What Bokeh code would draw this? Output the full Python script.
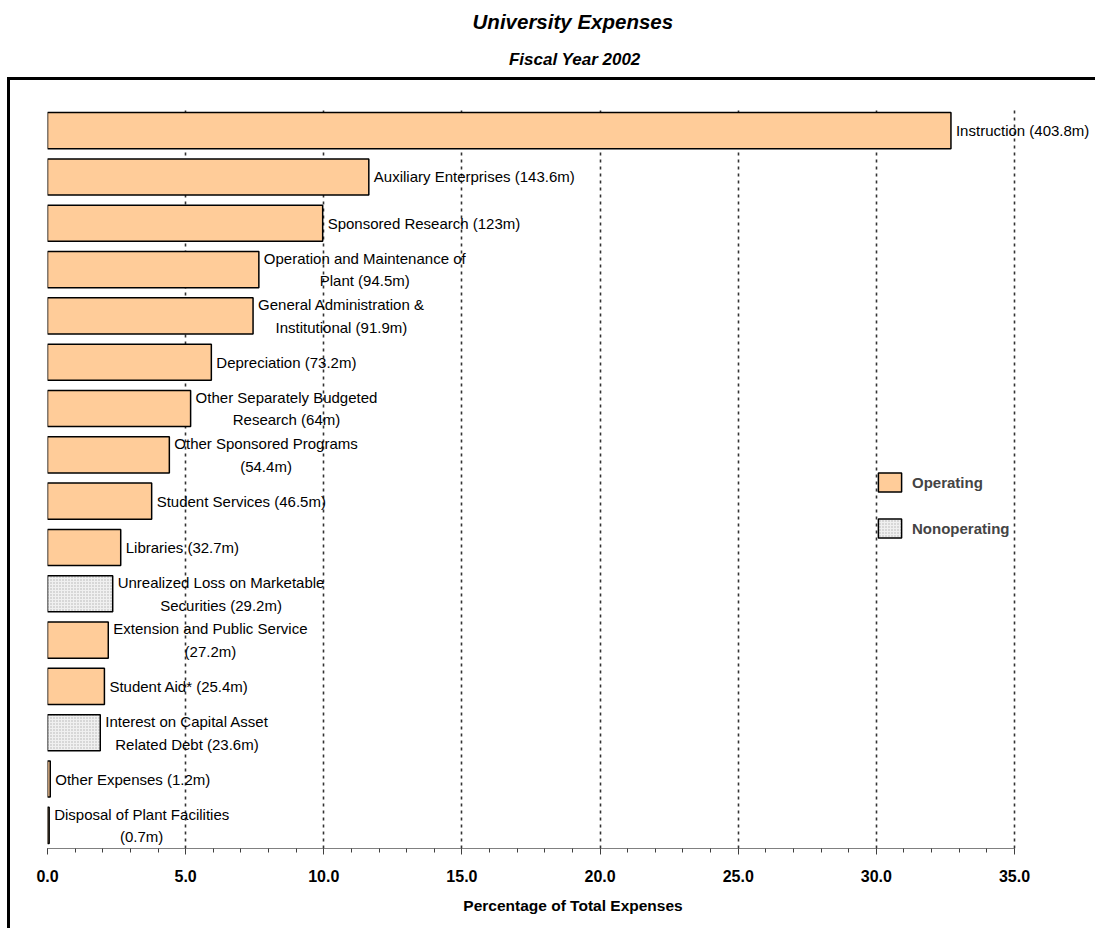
from bokeh.plotting import figure
from bokeh.layouts import column
from bokeh.models import (FixedTicker, Label, Legend, LegendItem,
                          ColumnDataSource, FactorRange, Range1d)
from bokeh.embed import file_html
from bokeh.resources import INLINE
from bokeh.core.properties import value

# ---------------- data ----------------
categories = [
    "Instruction", "Auxiliary Enterprises", "Sponsored Research",
    "Operation and Maintenance of Plant", "General Administration & Institutional",
    "Depreciation", "Other Separately Budgeted Research", "Other Sponsored Programs",
    "Student Services", "Libraries", "Unrealized Loss on Marketable Securities",
    "Extension and Public Service", "Student Aid*",
    "Interest on Capital Asset Related Debt", "Other Expenses",
    "Disposal of Plant Facilities",
]
amounts_m = [403.8, 143.6, 123, 94.5, 91.9, 73.2, 64, 54.4, 46.5, 32.7, 29.2,
             27.2, 25.4, 23.6, 1.2, 0.7]
percent = [32.70, 11.63, 9.96, 7.65, 7.44, 5.93, 5.18, 4.41, 3.77, 2.65, 2.36,
           2.20, 2.06, 1.91, 0.10, 0.06]
kinds = ["Operating"] * 10 + ["Nonoperating"] + ["Operating"] * 2 + \
        ["Nonoperating"] + ["Operating"] * 2
bar_labels = [
    "Instruction (403.8m)", "Auxiliary Enterprises (143.6m)",
    "Sponsored Research (123m)", "Operation and Maintenance of\nPlant (94.5m)",
    "General Administration &\nInstitutional (91.9m)", "Depreciation (73.2m)",
    "Other Separately Budgeted\nResearch (64m)", "Other Sponsored Programs\n(54.4m)",
    "Student Services (46.5m)", "Libraries (32.7m)",
    "Unrealized Loss on Marketable\nSecurities (29.2m)",
    "Extension and Public Service\n(27.2m)", "Student Aid* (25.4m)",
    "Interest on Capital Asset\nRelated Debt (23.6m)", "Other Expenses (1.2m)",
    "Disposal of Plant Facilities\n(0.7m)",
]
x_ticks = [0, 5, 10, 15, 20, 25, 30, 35]
x_tick_labels = ["0.0", "5.0", "10.0", "15.0", "20.0", "25.0", "30.0", "35.0"]
x_minor_ticks = list(range(0, 36))
title_text = "University Expenses"
subtitle_text = "Fiscal Year 2002"
x_axis_title = "Percentage of Total Expenses"

# ---------------- styling ----------------
FONT = "Liberation Sans"
LABEL_SIZE = 15.0
TOTAL_W = 1098
TOTAL_H = 931
HEAD_H = 77
BORDER = 3
MARGIN_L = 7
PW = TOTAL_W - MARGIN_L - BORDER          # content width of main plot
PH = TOTAL_H - HEAD_H - BORDER            # content height of main plot
LEFT, TOP = 37, 27
FRAME_H = 741
BOTTOM = PH - TOP - FRAME_H
AXIS_PX = 967.0                            # pixel length of 0..35
x_end = 35 * (PW - LEFT) / AXIS_PX

# Arial / Liberation Sans widths (per 1000 em)
CW = {' ': 278, '&': 667, '(': 333, ')': 333, '*': 389, '.': 278,
      'A': 667, 'B': 667, 'C': 722, 'D': 722, 'E': 667, 'F': 611, 'G': 778,
      'I': 278, 'L': 556, 'M': 833, 'O': 778, 'P': 667, 'R': 722, 'S': 667,
      'U': 722, 'a': 556, 'b': 556, 'c': 500, 'd': 556, 'e': 556, 'f': 278,
      'g': 556, 'h': 556, 'i': 222, 'j': 222, 'k': 500, 'l': 222, 'm': 833,
      'n': 556, 'o': 556, 'p': 556, 'q': 556, 'r': 333, 's': 500, 't': 278,
      'u': 556, 'v': 500, 'w': 722, 'x': 500, 'y': 500, 'z': 500}


def text_w(s):
    return sum(CW.get(c, 556) for c in s) / 1000.0 * LABEL_SIZE


# ---------------- heading figure ----------------
head = figure(width=TOTAL_W, height=HEAD_H, x_range=Range1d(0, TOTAL_W),
              y_range=Range1d(HEAD_H, 0), output_backend="svg",
              toolbar_location=None, title=None,
              min_border=0, min_border_left=0, min_border_right=0,
              min_border_top=0, min_border_bottom=0,
              x_axis_location=None, y_axis_location=None)
head.grid.visible = False
head.outline_line_color = None
head.add_layout(Label(x=554, y=21, text=title_text, text_align="center",
                      text_baseline="alphabetic", text_font=FONT,
                      text_font_size="20.5px", text_font_style="bold italic",
                      text_color="black"))
head.add_layout(Label(x=556, y=59, text=subtitle_text, text_align="center",
                      text_baseline="alphabetic", text_font=FONT,
                      text_font_size="17px", text_font_style="bold italic",
                      text_color="black"))

# ---------------- main figure ----------------
p = figure(width=PW, height=PH,
           y_range=FactorRange(factors=list(reversed(categories))),
           x_range=Range1d(0, x_end),
           output_backend="svg", toolbar_location=None,
           min_border_left=LEFT, min_border_right=0,
           min_border_top=TOP, min_border_bottom=BOTTOM)
p.outline_line_color = None
p.background_fill_color = "white"
p.border_fill_color = "white"
p.margin = (0, 0, 0, MARGIN_L)
p.styles = {"border-left": "%dpx solid black" % BORDER,
            "border-top": "%dpx solid black" % BORDER}

ticker = FixedTicker(ticks=x_ticks, minor_ticks=x_minor_ticks)
p.xgrid.ticker = ticker
p.xgrid.grid_line_color = "#333333"
p.xgrid.grid_line_dash = "3 4"
p.xgrid.grid_line_width = 1.6
p.ygrid.visible = False
p.yaxis.visible = False

ax = p.xaxis[0]
ax.ticker = ticker
ax.bounds = (0, 35)
ax.major_label_overrides = {t: l for t, l in zip(x_ticks, x_tick_labels)}
ax.axis_line_color = "#808080"
ax.axis_line_width = 1.2
ax.major_tick_line_color = "#404040"
ax.minor_tick_line_color = "#404040"
ax.major_tick_in = 0
ax.major_tick_out = 6
ax.minor_tick_in = 0
ax.minor_tick_out = 4
ax.major_label_standoff = 15
ax.major_label_text_font = FONT
ax.major_label_text_font_size = "16px"
ax.major_label_text_font_style = "bold"
ax.major_label_text_color = "black"
ax.axis_label = x_axis_title
ax.axis_label_text_font = FONT
ax.axis_label_text_font_size = "15.5px"
ax.axis_label_text_font_style = "bold"
ax.axis_label_text_color = "black"
ax.axis_label_standoff = 12

op_idx = [i for i, k in enumerate(kinds) if k == "Operating"]
non_idx = [i for i, k in enumerate(kinds) if k == "Nonoperating"]
src_op = ColumnDataSource(dict(y=[categories[i] for i in op_idx],
                               x=[percent[i] for i in op_idx]))
src_non = ColumnDataSource(dict(y=[categories[i] for i in non_idx],
                                x=[percent[i] for i in non_idx]))

r_op = p.hbar(y="y", right="x", left=0, height=0.78, source=src_op,
              fill_color="#FFCC99", line_color="black", line_width=1.5)
r_non = p.hbar(y="y", right="x", left=0, height=0.78, source=src_non,
               fill_color="#f0f0f0", line_color="black", line_width=1.5,
               hatch_pattern="dot", hatch_color="#b0b0b0", hatch_scale=3,
               hatch_weight=1)

single = [i for i, l in enumerate(bar_labels) if "\n" not in l]
multi = [i for i, l in enumerate(bar_labels) if "\n" in l]
src_t1 = ColumnDataSource(dict(y=[categories[i] for i in single],
                               x=[percent[i] for i in single],
                               t=[bar_labels[i] for i in single]))
src_t2 = ColumnDataSource(dict(
    y=[categories[i] for i in multi],
    x=[percent[i] for i in multi],
    t=[bar_labels[i] for i in multi],
    xo=[5 + max(text_w(s) for s in bar_labels[i].split("\n")) / 2 for i in multi]))

p.text(x="x", y="y", text="t", source=src_t1, x_offset=5,
       text_align="left", text_baseline="middle", text_color="black",
       text_font=value(FONT), text_font_size="15px")
p.text(x="x", y="y", text="t", source=src_t2, x_offset="xo",
       text_align="center", text_baseline="middle", text_color="black",
       text_font=value(FONT), text_font_size="15px", text_line_height=1.33)

legend = Legend(items=[LegendItem(label="Operating", renderers=[r_op]),
                       LegendItem(label="Nonoperating", renderers=[r_non])],
                location=(828, 308), orientation="vertical",
                glyph_width=29, glyph_height=24, label_height=24,
                spacing=22, padding=0, margin=0, label_standoff=8,
                border_line_alpha=0, background_fill_alpha=0,
                label_text_font=FONT, label_text_font_size="15px",
                label_text_font_style="bold")
p.add_layout(legend)

layout = column(head, p, spacing=0)
open("out.html", "w").write(file_html(layout, INLINE))
